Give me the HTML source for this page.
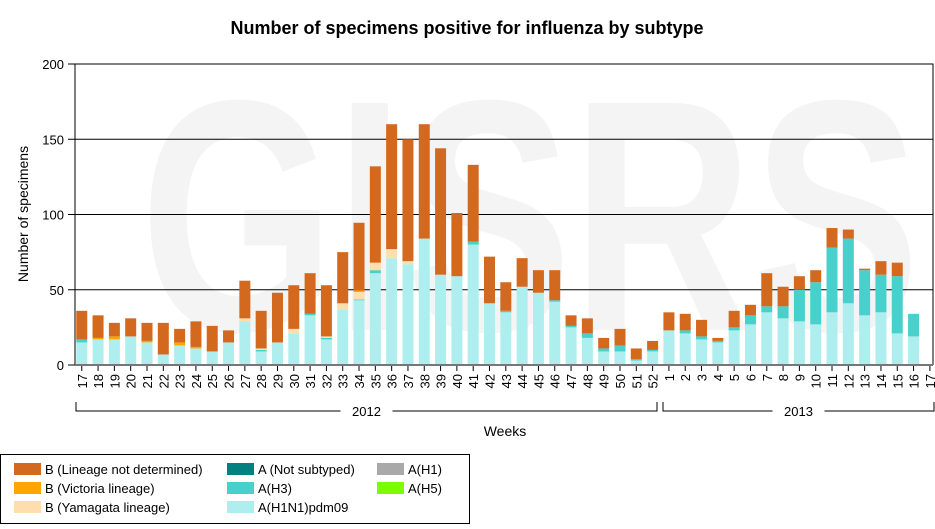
<!DOCTYPE html>
<html><head><meta charset="utf-8"><style>
body{margin:0;background:#fff;}
svg{display:block;font-family:"Liberation Sans",Arial,sans-serif;}
</style></head><body>
<svg id="chart" width="935" height="529" viewBox="0 0 935 529">
<text x="140" y="330" font-size="330" font-weight="bold" fill="#f4f4f4" textLength="780" lengthAdjust="spacingAndGlyphs">GISRS</text>
<text x="467" y="34" font-size="18" font-weight="bold" text-anchor="middle" fill="#000">Number of specimens positive for influenza by subtype</text>
<text transform="translate(28,214) rotate(-90)" font-size="14" text-anchor="middle">Number of specimens</text>
<g id="grid"></g><g id="bars"></g><g id="axes"></g>
<text x="505" y="436" font-size="14" text-anchor="middle">Weeks</text>
<g>
<rect x="0.5" y="454.5" width="469" height="69" fill="#fff" stroke="#000"/>
<g font-size="13">
<rect x="14" y="463" width="27" height="12" fill="#d2691e"/><text x="45" y="474">B (Lineage not determined)</text>
<rect x="14" y="482" width="27" height="12" fill="#ffa500"/><text x="45" y="493">B (Victoria lineage)</text>
<rect x="14" y="501" width="27" height="12" fill="#ffdead"/><text x="45" y="512">B (Yamagata lineage)</text>
<rect x="227" y="463" width="27" height="12" fill="#008080"/><text x="258" y="474">A (Not subtyped)</text>
<rect x="227" y="482" width="27" height="12" fill="#48d1cc"/><text x="258" y="493">A(H3)</text>
<rect x="227" y="501" width="27" height="12" fill="#afeeee"/><text x="258" y="512">A(H1N1)pdm09</text>
<rect x="377" y="463" width="27" height="12" fill="#a9a9a9"/><text x="408" y="474">A(H1)</text>
<rect x="377" y="482" width="27" height="12" fill="#7cfc00"/><text x="408" y="493">A(H5)</text>
</g></g>
</svg>
<script>
const weeks=[17,18,19,20,21,22,23,24,25,26,27,28,29,30,31,32,33,34,35,36,37,38,39,40,41,42,43,44,45,46,47,48,49,50,51,52,1,2,3,4,5,6,7,8,9,10,11,12,13,14,15,16,17];
const h1n1=[15,17,17,19,15,7,13,11,9,15,29,9,15,21,33,17,37,43,61,71,67,84,60,59,80,41,35,52,48,42,25,18,9,9,3,9,23,21,17,15,23,27,35,31,29,27,35,41,33,35,21,19,0];
const h3=[2,0,0,0,0,0,0,0,0,0,0,1,0,0,1,1,0,0.5,2,0,0,0,0,0,2,0,1,0,0,1,1,3,2,4,1,1,0,2,2,1,2,6,4,8,21,28,43,43,30,25,38,15,0];
const yamagata=[0,0,0,0,0,0,0,0,0,0,2,1,0,3,0,1,4,5,5,6,2,0,0,0,0,0,0,0,0,0,0,0,0,0,0,0,0,0,0,0,0,0,0,0,0,0,0,0,0,0,0,0,0];
const victoria=[0,1,2,0,1,0,2,1,0,0,0,0,0,0,0,0,0,1,0,0,0,0,0,0,0,0,0,0,0,0,0,0,0,0,0,0,0,0,0,0,0,0,0,0,0,0,0,0,0,0,0,0,0];
const bUndet=[19,15,9,12,12,21,9,17,17,8,25,25,33,29,27,34,34,45,64,83,81,76,84,42,51,31,19,19,15,20,7,10,7,11,7,6,12,11,11,2,11,7,22,13,9,8,13,6,1,9,9,0,0];
const yTicks=[0,50,100,150,200];
const yearLabels=["2012","2013"];
const NS="http://www.w3.org/2000/svg";
const X0=73.6,SLOT=16.31,BW=11,Y0=365,YTOP=64,YMAX=200,PL=75,PR=933;
const y=v=>Y0-v*(Y0-YTOP)/YMAX;
const xc=i=>X0+(i+0.5)*SLOT;
function mk(tag,attrs,parent){const e=document.createElementNS(NS,tag);for(const k in attrs)e.setAttribute(k,attrs[k]);parent.appendChild(e);return e;}
const grid=document.getElementById('grid'),bars=document.getElementById('bars'),axes=document.getElementById('axes');
yTicks.forEach(t=>{
  if(t>0){const l=mk('line',{x1:PL,x2:PR,y1:y(t),y2:y(t),stroke:'#000','stroke-width':1},grid);
  
  }
  const tk=mk('line',{x1:PL-7,x2:PL,y1:y(t),y2:y(t),stroke:'#000'},axes);
  
  
  const tx=mk('text',{x:PL-11,y:y(t)+5,'font-size':13,'text-anchor':'end'},axes);
  tx.textContent=t;
  
  
});
const series=[[h1n1,'#afeeee','h1n1'],[h3,'#48d1cc','h3'],[yamagata,'#ffdead','yamagata'],[victoria,'#ffa500','victoria'],[bUndet,'#d2691e','b-undetermined']];
weeks.forEach((w,i)=>{
  let acc=0;
  series.forEach(([arr,col,nm])=>{
    const v=arr[i];if(v>0){
      const r=mk('rect',{x:xc(i)-BW/2,y:y(acc+v),width:BW,height:y(acc)-y(acc+v),fill:col},bars);
      
      
    }
    acc+=v;
  });
  const tk=mk('line',{x1:xc(i),x2:xc(i),y1:Y0,y2:Y0+6,stroke:'#000'},axes);
  
  
  const tx=mk('text',{transform:`translate(${xc(i)+5},${Y0+9}) rotate(-90)`,'font-size':13,'text-anchor':'end'},axes);
  tx.textContent=w;
  
  
});
const fr=mk('path',{d:`M${PL},${YTOP}H${PR}V${Y0}M${PL},${YTOP}V${Y0}`,fill:'none',stroke:'#000'},axes);


const base=mk('line',{x1:PL,x2:PR,y1:Y0,y2:Y0,stroke:'#777','stroke-width':2},axes);


const brackets=[[76,657],[663,934]];
brackets.forEach(([a,b],k)=>{
  const mid=(a+b)/2;
  const p=mk('path',{d:`M${a},402V411H${mid-26}M${mid+26},411H${b}V402`,fill:'none',stroke:'#000'},axes);
  
  
  const t=mk('text',{x:mid,y:416,'font-size':13,'text-anchor':'middle'},axes);
  t.textContent=yearLabels[k];
  
  
});
</script>
</body></html>
